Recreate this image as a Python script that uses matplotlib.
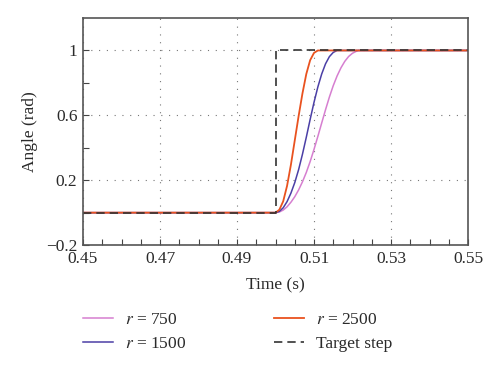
import matplotlib
matplotlib.use("Agg")
import matplotlib.pyplot as plt
from matplotlib.ticker import FixedLocator, MultipleLocator

plt.rcParams["font.family"] = "Liberation Serif"
plt.rcParams["mathtext.fontset"] = "stix"

# =========================
# DATOS
# =========================
t_750 = [0.45, 0.500, 0.501, 0.502, 0.503, 0.504, 0.505, 0.506, 0.507, 0.508, 0.509,
         0.510, 0.511, 0.512, 0.513, 0.514, 0.515, 0.516, 0.517, 0.518, 0.519,
         0.520, 0.521, 0.5215, 0.55]
y_750 = [0.0, 0.0, 0.004, 0.016, 0.036, 0.064, 0.098, 0.14, 0.19, 0.248, 0.315,
         0.39, 0.47, 0.553, 0.635, 0.713, 0.783, 0.843, 0.893, 0.933, 0.963,
         0.983, 0.995, 1.0, 1.0]

t_1500 = [0.45, 0.500, 0.501, 0.502, 0.503, 0.504, 0.505, 0.506, 0.507, 0.508, 0.509,
          0.510, 0.511, 0.512, 0.513, 0.514, 0.515, 0.516, 0.55]
y_1500 = [0.0, 0.0, 0.008, 0.03, 0.068, 0.12, 0.185, 0.265, 0.36, 0.465, 0.575,
          0.68, 0.775, 0.855, 0.918, 0.962, 0.988, 1.0, 1.0]

t_2500 = [0.45, 0.500, 0.501, 0.502, 0.503, 0.504, 0.505, 0.506, 0.507, 0.508, 0.509,
          0.510, 0.511, 0.55]
y_2500 = [0.0, 0.0, 0.018, 0.07, 0.165, 0.295, 0.445, 0.595, 0.735, 0.855, 0.94,
          0.985, 1.0, 1.0]

t_step = [0.45, 0.5, 0.5, 0.55]
y_step = [0.0, 0.0, 1.0, 1.0]

etiquetas = ["$r$ = 750", "$r$ = 1500", "$r$ = 2500", "Target step"]
colores = ["#d67fd0", "#4b3fa6", "#e9521f", "#333333"]

xticks = [0.45, 0.47, 0.49, 0.51, 0.53, 0.55]
yticks = [-0.2, 0.2, 0.6, 1.0]
yticklabels = ["\u22120.2", "0.2", "0.6", "1"]

# =========================
# FIGURA
# =========================
fig = plt.figure(figsize=(5.0, 3.68), dpi=100)
ax = fig.add_axes([0.166, 0.334, 0.770, 0.617])

l1, = ax.plot(t_750, y_750, color=colores[0], lw=1.1)
l2, = ax.plot(t_1500, y_1500, color=colores[1], lw=1.1)
l3, = ax.plot(t_2500, y_2500, color=colores[2], lw=1.3)
l4, = ax.plot(t_step, y_step, color=colores[3], lw=1.2, ls=(0, (5, 3)))

ax.set_xlim(0.45, 0.55)
ax.set_ylim(-0.2, 1.2)
ax.xaxis.set_major_locator(FixedLocator(xticks))
ax.xaxis.set_minor_locator(MultipleLocator(0.005))
ax.yaxis.set_major_locator(FixedLocator(yticks))
ax.yaxis.set_minor_locator(FixedLocator([0.0, 0.4, 0.8]))
ax.set_xticklabels([f"{v:.2f}" for v in xticks])
ax.set_yticklabels(yticklabels)

ax.tick_params(which="both", direction="in", color="#444444", labelsize=12.5,
               top=False, right=False, labelcolor="#2a2a2a")
ax.tick_params(which="major", length=4, width=0.8, pad=4)
ax.tick_params(which="minor", length=4, width=0.8)

for s in ax.spines.values():
    s.set_color("#555555")
    s.set_linewidth(1.2)

ax.grid(True, which="major", color="#777777", ls=(0, (1, 6)), lw=0.8)

ax.set_xlabel("Time (s)", fontsize=12.5, color="#2a2a2a", labelpad=8)
ax.set_ylabel("Angle (rad)", fontsize=12.5, color="#2a2a2a", labelpad=6)

fig.legend([l1, l2, l3, l4], etiquetas, loc="upper left", bbox_to_anchor=(0.152, 0.172),
           ncol=2, frameon=False, fontsize=12.5, handlelength=1.75, handletextpad=0.7,
           columnspacing=5.0, labelspacing=0.45, borderaxespad=0, labelcolor="#2a2a2a")

fig.savefig("out.png", dpi=100)
